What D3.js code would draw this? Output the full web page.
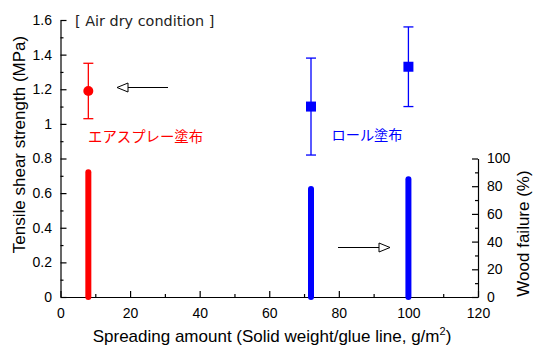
<!DOCTYPE html>
<html>
<head>
<meta charset="utf-8">
<script src="https://cdn.jsdelivr.net/npm/d3@7"></script>
<style>
  body { margin: 0; background: #fff; }
  text { font-family: "Liberation Sans", Arial, sans-serif; }
  .jp { font-family: "Noto Sans CJK JP", sans-serif; }
</style>
</head>
<body>
<svg width="533" height="347"></svg>
<script>
// spreading amount (g/m2)
const sprayX = [8];
const rollX = [72, 100];
// tensile shear strength (MPa): mean, upper, lower
const sprayStrength = [1.19];
const sprayHigh = [1.35];
const sprayLow = [1.03];
const rollStrength = [1.10, 1.33];
const rollHigh = [1.38, 1.56];
const rollLow = [0.82, 1.10];
// wood failure (%)
const sprayWood = [90];
const rollWood = [78, 85];

const xTicks = [0, 20, 40, 60, 80, 100, 120];
const yTicks = [0, 0.2, 0.4, 0.6, 0.8, 1, 1.2, 1.4, 1.6];
const y2Ticks = [0, 20, 40, 60, 80, 100];

const svg = d3.select("svg");
const x = d3.scaleLinear().domain([0, 120]).range([60.5, 478]);
const y = d3.scaleLinear().domain([0, 1.6]).range([297, 20]);
const y2 = d3.scaleLinear().domain([0, 100]).range([297, 158.5]);

// axes, ticks pointing inward
function styleAxis(g) {
  g.selectAll("path, line").attr("stroke", "#000").attr("stroke-width", 1.2);
  g.selectAll("text").attr("font-size", 14).attr("fill", "#000");
}

svg.append("g")
  .attr("transform", "translate(0,297)")
  .call(d3.axisBottom(x).tickValues(d3.range(10, 120, 20)).tickSize(-3).tickFormat(""))
  .call(g => g.select(".domain").remove())
  .call(styleAxis);
svg.append("g")
  .attr("transform", "translate(0,297)")
  .call(d3.axisBottom(x).tickValues(xTicks).tickSizeInner(-6).tickSizeOuter(0).tickPadding(11))
  .call(styleAxis);

svg.append("g")
  .attr("transform", "translate(60.5,0)")
  .call(d3.axisLeft(y).tickValues(d3.range(0.1, 1.6, 0.2)).tickSize(-3).tickFormat(""))
  .call(g => g.select(".domain").remove())
  .call(styleAxis);
svg.append("g")
  .attr("transform", "translate(60.5,0)")
  .call(d3.axisLeft(y).tickValues(yTicks).tickSizeInner(-6).tickSizeOuter(0).tickPadding(8.5).tickFormat(d3.format("~g")))
  .call(styleAxis);

svg.append("g")
  .attr("transform", "translate(478,0)")
  .call(d3.axisRight(y2).tickValues(d3.range(10, 100, 20)).tickSize(-3).tickFormat(""))
  .call(g => g.select(".domain").remove())
  .call(styleAxis);
svg.append("g")
  .attr("transform", "translate(478,0)")
  .call(d3.axisRight(y2).tickValues(y2Ticks).tickSizeInner(-6).tickSizeOuter(0).tickPadding(9))
  .call(styleAxis);

// axis titles
svg.append("text")
  .attr("transform", "translate(25,144.5) rotate(-90)")
  .attr("text-anchor", "middle").attr("font-size", 17)
  .text("Tensile shear strength (MPa)");
svg.append("text")
  .attr("transform", "translate(529,233.5) rotate(-90)")
  .attr("text-anchor", "middle").attr("font-size", 17)
  .text("Wood failure (%)");
const xt = svg.append("text")
  .attr("x", 272).attr("y", 341.5)
  .attr("text-anchor", "middle").attr("font-size", 17);
xt.append("tspan").text("Spreading amount (Solid weight/glue line, g/m");
xt.append("tspan").attr("font-size", 11).attr("dy", -7).text("2");
xt.append("tspan").attr("dy", 7).text(")");

// wood failure bars
const bars = sprayX.map((d, i) => ({ x: d, v: sprayWood[i], c: "#ff0000" }))
  .concat(rollX.map((d, i) => ({ x: d, v: rollWood[i], c: "#0000ff" })));
svg.selectAll("line.bar")
  .data(bars)
  .enter()
  .append("line")
    .attr("class", "bar")
    .attr("x1", d => x(d.x)).attr("x2", d => x(d.x))
    .attr("y1", y2(0)).attr("y2", d => y2(d.v))
    .attr("stroke", d => d.c)
    .attr("stroke-width", 6)
    .attr("stroke-linecap", "round");

// strength points with error bars
const pts = sprayX.map((d, i) => ({ x: d, v: sprayStrength[i], hi: sprayHigh[i], lo: sprayLow[i], c: "#ff0000", shape: "circle" }))
  .concat(rollX.map((d, i) => ({ x: d, v: rollStrength[i], hi: rollHigh[i], lo: rollLow[i], c: "#0000ff", shape: "square" })));

const pg = svg.selectAll("g.pt").data(pts).enter().append("g").attr("class", "pt");
pg.append("line")
  .attr("x1", d => x(d.x)).attr("x2", d => x(d.x))
  .attr("y1", d => y(d.hi)).attr("y2", d => y(d.lo))
  .attr("stroke", d => d.c).attr("stroke-width", 1.3);
pg.append("line")
  .attr("x1", d => x(d.x) - 5).attr("x2", d => x(d.x) + 5)
  .attr("y1", d => y(d.hi)).attr("y2", d => y(d.hi))
  .attr("stroke", d => d.c).attr("stroke-width", 1.3);
pg.append("line")
  .attr("x1", d => x(d.x) - 5).attr("x2", d => x(d.x) + 5)
  .attr("y1", d => y(d.lo)).attr("y2", d => y(d.lo))
  .attr("stroke", d => d.c).attr("stroke-width", 1.3);
pg.filter(d => d.shape == "circle").append("circle")
  .attr("cx", d => x(d.x)).attr("cy", d => y(d.v)).attr("r", 5)
  .attr("fill", d => d.c);
pg.filter(d => d.shape == "square").append("rect")
  .attr("x", d => x(d.x) - 5).attr("y", d => y(d.v) - 5)
  .attr("width", 10).attr("height", 10)
  .attr("fill", d => d.c);

// annotations
svg.append("text").attr("x", 75).attr("y", 25.5)
  .style("font-family", "'DejaVu Sans', sans-serif")
  .attr("font-size", 14.4).attr("fill", "#222")
  .text("[ Air dry condition ]");
svg.append("text").attr("class", "jp").attr("x", 88).attr("y", 142)
  .attr("font-size", 14.4).attr("fill", "#ff0000").text("エアスプレー塗布");
svg.append("text").attr("class", "jp").attr("x", 331.5).attr("y", 140)
  .attr("font-size", 14.2).attr("fill", "#0000ff").text("ロール塗布");

// arrows with open heads
function arrow(x1, x2, yy) {
  const dir = Math.sign(x2 - x1);
  const hx = x2 - dir * 11;
  svg.append("line").attr("x1", x1).attr("x2", hx).attr("y1", yy).attr("y2", yy)
    .attr("stroke", "#000").attr("stroke-width", 1);
  svg.append("path")
    .attr("d", `M${x2},${yy} L${hx},${yy - 4.5} L${hx},${yy + 4.5} Z`)
    .attr("fill", "#fff").attr("stroke", "#000").attr("stroke-width", 1);
}
arrow(168, 117, 87.5);
arrow(338, 390, 247.5);
</script>
</body>
</html>
